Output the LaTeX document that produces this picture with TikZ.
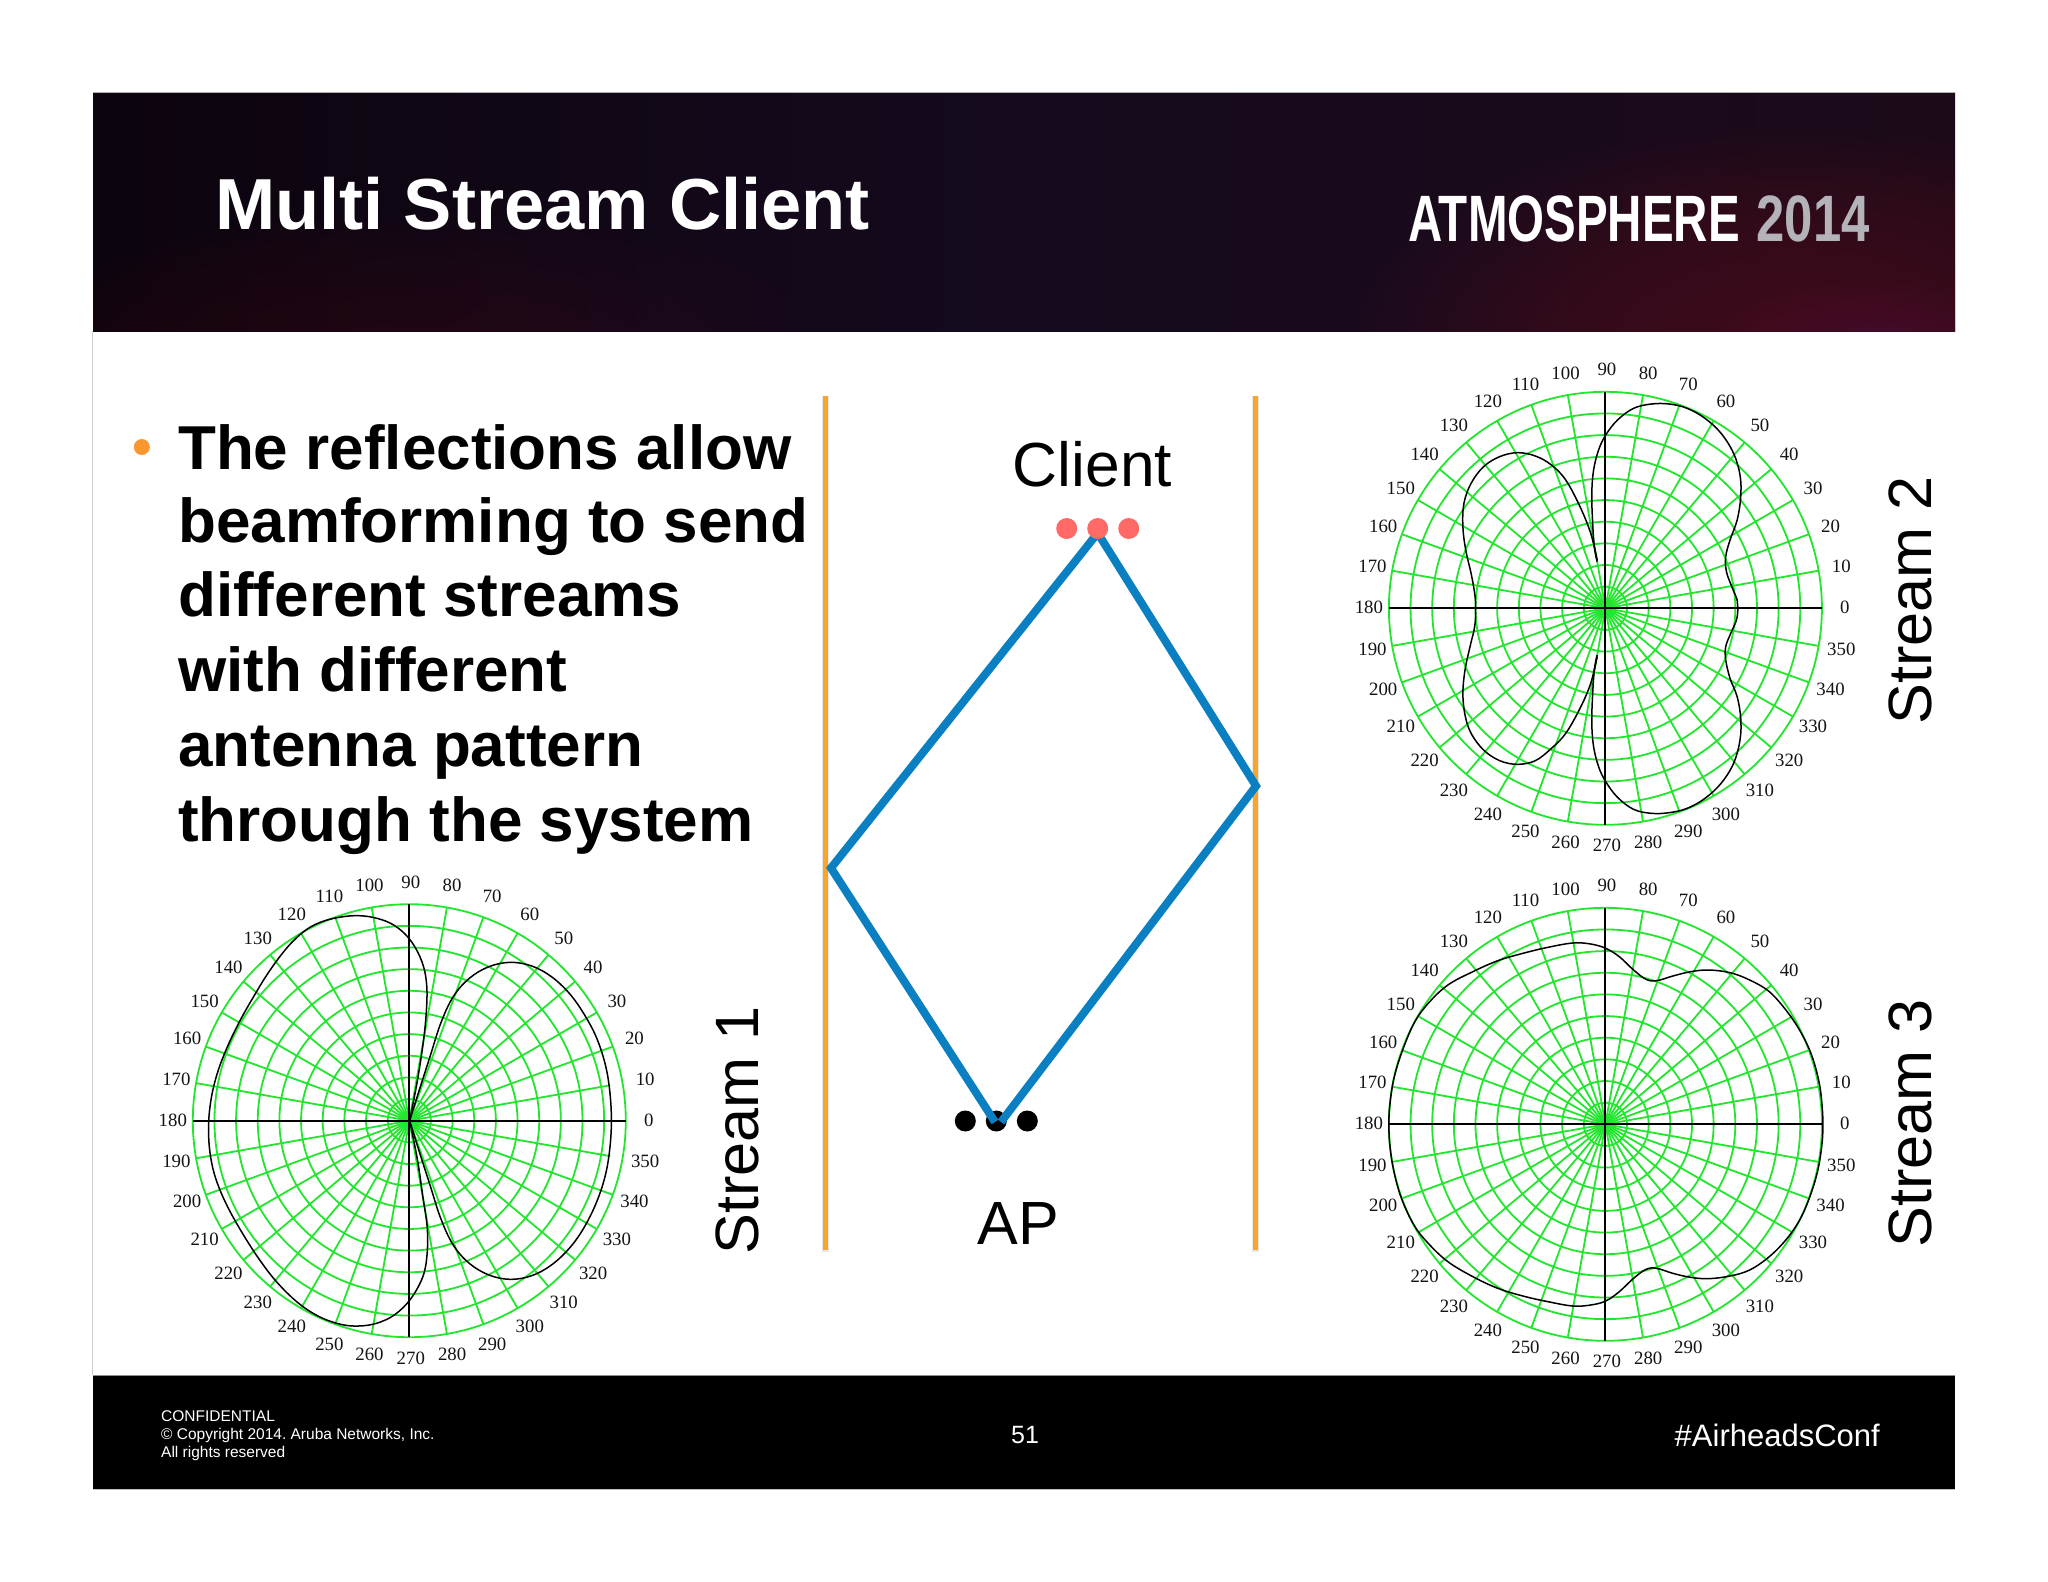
\documentclass[tikz,border=0pt]{standalone}
\usepackage{fontspec}
\setmainfont{Liberation Sans}
\newfontfamily\polarfont{Liberation Serif}
\definecolor{gridgreen}{HTML}{22E62E}
\definecolor{raybar}{HTML}{F8A52C}
\definecolor{pathblue}{HTML}{0A80C2}
\definecolor{clientred}{HTML}{FF6A66}
\definecolor{dotorange}{HTML}{F9962F}
\definecolor{hdrA}{HTML}{0C040E}
\definecolor{hdrB}{HTML}{150A1E}
\definecolor{hdrC}{HTML}{1C0A18}
\definecolor{glow}{HTML}{5E1A30}
\definecolor{glowB}{HTML}{5A1245}
\definecolor{glowC}{HTML}{3A0F22}
\definecolor{yeargray}{HTML}{B5B3BA}
\tikzset{
  gridline/.style={draw=gridgreen,line width=1.8pt},
  axisline/.style={draw=black,line width=1.9pt},
  patternline/.style={draw=black,line width=1.5pt,line join=round},
  polarlabel/.style={inner sep=0pt,text=black!92,font=\polarfont\fontsize{18.8}{19}\selectfont},
  bodytext/.style={anchor=base west,inner sep=0pt,text=black,font=\bfseries\fontsize{62}{62}\selectfont},
  foottext/.style={anchor=base west,inner sep=0pt,text=white,font=\fontsize{15.5}{16}\selectfont},
  streamlabel/.style={rotate=90,anchor=base,inner sep=0pt,text=black,font=\fontsize{61.2}{62}\selectfont},
  rayline/.style={draw=raybar,line width=5pt},
  rayshadow/.style={draw=black!9,line width=7.5pt},
  beam/.style={draw=pathblue,line width=8pt,line join=miter},
  antenna/.style={circle,inner sep=0pt,minimum size=21pt},
}
\newcommand{\polargrid}[4]{%
  \foreach \r in {1,...,10} \draw[gridline] (#1,#2) circle[radius=21.65*\r];
  \foreach \a in {10,20,...,350}{
    \pgfmathsetmacro{\sp}{((#3==1)&&((\a==10)||(\a==350)))?204:216.5}
    \draw[gridline] (#1,#2) -- ++({\sp*cos(\a)},{-\sp*sin(\a)});
  }
  \draw[axisline] (#1-216.5,#2) -- (#1+216.5,#2);
  \draw[axisline] (#1,#2-216.5) -- (#1,#2+216.5);
  \foreach \a in {0,10,...,350}
    \node[polarlabel] (#4l\a) at ({#1+1.5+238*cos(\a)},{#2-0.5-238*sin(\a)}) {\a};
}
\begin{document}
\frenchspacing
\begin{tikzpicture}[x=1pt,y=-1pt]
\useasboundingbox (0,0) rectangle (2048,1582);
\fill[white] (0,0) rectangle (2048,1582);
% slide edge
\draw[black!20,line width=1pt] (92.5,331) -- (92.5,1375);
% header
\shade[left color=hdrA,right color=hdrC,middle color=hdrB] (93,92) rectangle (1955,331);
\begin{scope}
\clip (93,92) rectangle (1955,331);
\foreach \k in {1,...,24}
  \fill[glow,opacity=0.045] (1790,345) ellipse[x radius={450-17*\k},y radius={225-8.5*\k}];
\foreach \k in {1,...,14}
  \fill[glowB,opacity=0.04] (1880,345) ellipse[x radius={170-10*\k},y radius={70-4*\k}];
\foreach \k in {1,...,14}
  \fill[glowC,opacity=0.05] (420,345) ellipse[x radius={420-25*\k},y radius={140-9*\k}];
\end{scope}
\draw[black!30,line width=1pt] (93,92) -- (1955,92);
\node[anchor=base west,inner sep=0pt,text=white,font=\bfseries\fontsize{72.3}{72}\selectfont] (title) at (215,229.5) {Multi Stream Client};
\node[anchor=base west,inner sep=0pt,text=white,font=\bfseries\fontsize{65.6}{66}\selectfont] (brand) at (1408,241.5) {\scalebox{0.724}[1]{ATMOSPHERE}};
\node[anchor=base east,inner sep=0pt,text=yeargray,font=\bfseries\fontsize{65.6}{66}\selectfont] (year) at (1870,241.5) {\scalebox{0.775}[1]{2014}};
% footer
\fill[black] (93,1375) rectangle (1955,1489);
\draw[black!45,line width=1pt] (93,1375) -- (1955,1375);
\draw[black!25,line width=1pt] (93,1489) -- (1955,1489);
\node[foottext] (conf) at (161,1421) {CONFIDENTIAL};
\node[foottext] (copy) at (161,1439) {© Copyright 2014. Aruba Networks, Inc.};
\node[foottext] (rights) at (161,1457) {All rights reserved};
\node[anchor=base,inner sep=0pt,text=white,font=\fontsize{25}{25}\selectfont] (page) at (1025,1443.5) {51};
\node[anchor=base east,inner sep=0pt,text=white,font=\fontsize{31}{31}\selectfont] (tag) at (1880,1446) {\#AirheadsConf};
% bullet text
\fill[dotorange] (141.8,447) circle[radius=8];
\node[bodytext] (t1) at (178,469) {The reflections allow};
\node[bodytext] (t2) at (178,542) {beamforming to send};
\node[bodytext] (t3) at (178,616.5) {different streams};
\node[bodytext] (t4) at (178,691) {with different};
\node[bodytext] (t5) at (178,766.5) {antenna pattern};
\node[bodytext] (t6) at (178,841) {through the system};
% reflection walls
\draw[rayshadow] (825.7,396) -- (825.7,1252);
\draw[rayshadow] (1255.3,396) -- (1255.3,1252);
\draw[rayline] (825.7,396) -- (825.7,1250);
\draw[rayline] (1255.3,396) -- (1255.3,1250);
% antennas and rays
\node[antenna,fill=black] (ap1) at (965.3,1121) {};
\node[antenna,fill=black] (ap2) at (996.3,1121) {};
\node[antenna,fill=black] (ap3) at (1027.3,1121) {};
\coordinate (top) at (1097.7,533);
\coordinate (leftwall) at (831,868);
\coordinate (rightwall) at (1256,786);
\coordinate (apL) at (995,1122);
\coordinate (apR) at (1001,1122);
\draw[beam] (top) -- (leftwall) -- (apL);
\draw[beam] (apR) -- (rightwall) -- (top);
\node[antenna,fill=clientred] (c1) at (1066.7,528.5) {};
\node[antenna,fill=clientred] (c2) at (1097.7,528.5) {};
\node[antenna,fill=clientred] (c3) at (1128.7,528.5) {};
\node[anchor=base,inner sep=0pt,text=black,font=\fontsize{62.3}{62}\selectfont] (client) at (1092.5,486) {Client};
\node[anchor=base,inner sep=0pt,text=black,font=\fontsize{61}{61}\selectfont] (ap) at (1018,1244) {AP};
% stream labels
\node[streamlabel] (s1) at (758,1130.5) {Stream 1};
\node[streamlabel] (s2) at (1931,600.5) {Stream 2};
\node[streamlabel] (s3) at (1931,1123.5) {Stream 3};
% polar plots
\polargrid{409.3}{1120.7}{1}{a}
\polargrid{1605.4}{608.3}{0}{b}
\polargrid{1605.4}{1124.3}{0}{c}
\begin{scope}[shift={(130,860)},xscale=0.35714,yscale=0.33333]
\draw[patternline] plot[smooth,tension=0.6] coordinates {(783,782)(805,660)(822,540)(830,450)(831,380)(822,320)(800,265)(770,222)(730,190)(680,172)(630,167)(580,173)(535,186)(495,208)(455,245)(418,292)(380,350)(345,412)(315,468)(290,520)(268,572)(248,628)(233,685)(224,740)(220,795)(222,860)(232,925)(250,985)(278,1050)(315,1120)(360,1195)(410,1265)(470,1328)(530,1370)(590,1393)(640,1398)(690,1390)(740,1365)(785,1318)(820,1250)(832,1180)(832,1100)(820,1010)(805,900)(783,782)};
\draw[patternline] plot[smooth,tension=0.6] coordinates {(783,782)(810,690)(840,590)(870,490)(905,410)(950,355)(1005,320)(1065,307)(1125,318)(1180,350)(1230,400)(1270,460)(1305,530)(1330,610)(1343,690)(1348,782)(1343,870)(1330,950)(1305,1030)(1270,1105)(1230,1165)(1180,1215)(1125,1247)(1065,1258)(1005,1245)(950,1210)(905,1155)(870,1075)(840,975)(810,875)(783,782)};
\end{scope}
\begin{scope}[shift={(1330,350)},xscale=0.35714,yscale=0.33333]
\draw[patternline] plot[smooth,tension=0.6] coordinates {(748,635)(740,590)(735,510)(733,430)(738,360)(752,300)(772,255)(805,210)(850,175)(900,162)(950,162)(1000,175)(1050,205)(1095,250)(1130,310)(1148,375)(1150,440)(1140,510)(1120,570)(1108,620)(1110,665)(1125,710)(1140,750)(1142,775)(1138,810)(1122,850)(1108,890)(1108,930)(1120,985)(1140,1040)(1150,1105)(1148,1170)(1130,1240)(1095,1300)(1050,1345)(1000,1375)(950,1388)(900,1390)(850,1378)(805,1342)(772,1295)(752,1250)(738,1190)(733,1120)(735,1040)(740,960)(748,915)};
\draw[patternline] plot[smooth,tension=0.6] coordinates {(748,630)(730,550)(700,470)(660,390)(620,345)(575,318)(525,308)(475,320)(430,350)(395,400)(375,460)(372,530)(380,600)(395,670)(405,730)(408,775)(405,830)(392,890)(378,960)(372,1030)(378,1095)(395,1150)(430,1200)(475,1232)(525,1243)(575,1232)(620,1195)(660,1150)(700,1075)(730,1000)(748,920)};
\end{scope}
\begin{scope}[shift={(1330,870)},xscale=0.35714,yscale=0.33333]
\draw[patternline] plot[smooth cycle,tension=0.6] coordinates {(165,763)(167,710)(178,630)(200,550)(235,460)(275,400)(330,345)(400,305)(470,272)(540,250)(610,232)(680,219)(730,222)(772,235)(810,260)(850,300)(885,328)(915,332)(960,318)(1010,305)(1060,300)(1120,308)(1175,330)(1230,365)(1280,425)(1320,490)(1350,560)(1370,640)(1378,710)(1380,763)(1378,816)(1368,890)(1350,960)(1320,1040)(1280,1105)(1230,1160)(1175,1200)(1120,1218)(1060,1226)(1010,1222)(960,1210)(915,1195)(885,1198)(850,1225)(810,1265)(772,1293)(730,1305)(680,1308)(610,1295)(540,1278)(470,1255)(400,1220)(330,1175)(275,1120)(235,1065)(200,985)(178,900)(167,820)};
\end{scope}
\end{tikzpicture}
\end{document}
